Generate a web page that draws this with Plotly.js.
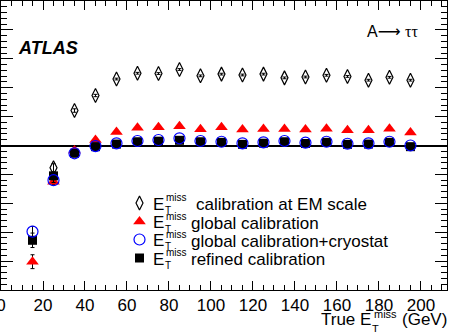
<!DOCTYPE html>
<html>
<head>
<meta charset="utf-8">
<script src="https://cdn.plot.ly/plotly-3.0.1.min.js"></script>
<style>
body {margin:0; background:#fff;}
#myPlot {width:450px; height:332px;}
</style>
</head>
<body>
<div id="myPlot"></div>
<script>
// true MET bin centres (GeV)
var trueMet = [15, 25, 35, 45, 55, 65, 75, 85, 95, 105, 115, 125, 135, 145, 155, 165, 175, 185, 195];

// linearity for each calibration
var emScale   = [-0.6, -0.077, 0.121, 0.173, 0.23, 0.25, 0.249, 0.263, 0.241, 0.247, 0.244, 0.247, 0.234, 0.237, 0.243, 0.239, 0.226, 0.236, 0.226];
var globalCal = [-0.402, -0.125, -0.017, 0.019, 0.047, 0.061, 0.063, 0.067, 0.056, 0.063, 0.055, 0.057, 0.057, 0.055, 0.058, 0.053, 0.053, 0.058, 0.045];
var cryostat  = [-0.298, -0.12, -0.027, -0.002, 0.0075, 0.0155, 0.019, 0.025, 0.0155, 0.013, 0.0075, 0.011, 0.0155, 0.0097, 0.013, 0.006, 0.0075, 0.013, 0.0];
var refined   = [-0.328, -0.105, -0.027, -0.004, 0.005, 0.013, 0.015, 0.018, 0.013, 0.011, 0.004, 0.008, 0.013, 0.007, 0.011, 0.004, 0.005, 0.011, -0.004];

// statistical errors
var emErr       = [0.02, 0.014, 0.006, 0.004, 0.003, 0.003, 0.003, 0.003, 0.003, 0.003, 0.003, 0.003, 0.003, 0.003, 0.003, 0.003, 0.003, 0.003, 0.003];
var globalErr   = [0.024, 0.01, 0.005, 0.004, 0.003, 0.003, 0.003, 0.003, 0.003, 0.003, 0.003, 0.003, 0.003, 0.003, 0.003, 0.003, 0.003, 0.003, 0.003];
var cryostatErr = [0.018, 0.008, 0.005, 0.004, 0.003, 0.003, 0.003, 0.003, 0.003, 0.003, 0.003, 0.003, 0.003, 0.003, 0.003, 0.003, 0.003, 0.003, 0.003];
var refinedErr  = [0.025, 0.008, 0.005, 0.004, 0.003, 0.003, 0.003, 0.003, 0.003, 0.003, 0.003, 0.003, 0.003, 0.003, 0.003, 0.003, 0.003, 0.003, 0.003];

var legendLabels = ["calibration at EM scale", "global calibration", "global calibration+cryostat", "refined calibration"];
var xTickVals = [0, 20, 40, 60, 80, 100, 120, 140, 160, 180, 200];

var font = "Liberation Sans, Arial, DejaVu Sans, sans-serif";

var markers = [
    {symbol: "diamond-tall-open", size: 10, color: "black", line: {color: "black", width: 1.2}},
    {symbol: "triangle-up", size: 11, color: "red", line: {width: 0}},
    {symbol: "square", size: 9, color: "black", line: {width: 0}},
    {symbol: "circle-open", size: 11, color: "blue", line: {color: "blue", width: 1.2}}
];

function errBars(arr) {
    return {type: "data", array: arr, visible: true, color: "black", thickness: 1, width: 2};
}

var data = [
    {x: trueMet, y: emScale, mode: "markers", marker: markers[0], error_y: errBars(emErr), cliponaxis: true},
    {x: trueMet, y: globalCal, mode: "markers", marker: markers[1], error_y: errBars(globalErr), cliponaxis: true},
    {x: trueMet, y: refined, mode: "markers", marker: markers[2], error_y: errBars(refinedErr), cliponaxis: true},
    {x: trueMet, y: cryostat, mode: "markers", marker: markers[3], error_y: errBars(cryostatErr), cliponaxis: true}
];

// legend keys drawn on an overlay axis in page pixels
var keyX = 139.5;
var keyRows = [203, 221.5, 239.5, 258];
var keyOrder = [0, 1, 3, 2];
for (let i = 0; i < keyRows.length; i++) {
    data.push({
        x: [keyX], y: [keyRows[i]], xaxis: "x2", yaxis: "y2",
        mode: "markers", marker: markers[keyOrder[i]], cliponaxis: false
    });
}

// plot area in page pixels: x 1..447, y 1..290
var annotations = [];
function addText(txt, px, py, size, anchor) {
    annotations.push({
        text: txt, x: (px - 1) / 446, y: (290 - py) / 289, xref: "paper", yref: "paper",
        showarrow: false, xanchor: anchor, yanchor: "middle",
        font: {family: font, size: size, color: "black"}
    });
}

// legend text with stacked E_T^miss
for (let i = 0; i < keyRows.length; i++) {
    var r = keyRows[i];
    addText("E", 150.5, r + 1, 17, "left");
    addText("miss", 163.5, r - 5.5, 10, "left");
    addText("T", 162.5, r + 7.5, 10, "left");
    addText(legendLabels[i], i == 0 ? 193.5 : 189, r + 1.5, 17, "left");
}

// x axis title
addText("True E", 373, 319.5, 17, "right");
addText("miss", 371.5, 313.5, 11, "left");
addText("T", 369.5, 328.5, 11, "left");
addText("(GeV)", 449, 319.5, 17, "right");

addText("<b><i>ATLAS</i></b>", 16, 48.5, 18, "left");
addText("A<span style='font-family:DejaVu Sans'>\u27f6</span> <span style='font-family:Liberation Serif'>\u03c4\u03c4</span>", 392, 31, 16, "center");

var layout = {
    width: 450, height: 332,
    margin: {l: 1, r: 3, t: 1, b: 42},
    paper_bgcolor: "white", plot_bgcolor: "white",
    showlegend: false,
    font: {family: font, size: 17, color: "black"},
    xaxis: {
        range: [0, 212.4], tickvals: xTickVals, ticks: "inside", ticklen: 9, tickwidth: 1, tickcolor: "black",
        minor: {dtick: 5, ticks: "inside", ticklen: 5, tickcolor: "black", showgrid: false},
        showline: true, linecolor: "black", linewidth: 1, mirror: "allticks",
        showgrid: false, zeroline: false, automargin: false, ticklabeloverflow: "allow",
        tickfont: {family: font, size: 17}
    },
    yaxis: {
        range: [-0.5, 0.5], dtick: 0.1, tick0: 0, ticks: "inside", ticklen: 12, tickwidth: 1, tickcolor: "black",
        minor: {dtick: 0.02, ticks: "inside", ticklen: 6, tickcolor: "black", showgrid: false},
        showline: true, linecolor: "black", linewidth: 1, mirror: "allticks",
        showticklabels: false, showgrid: false, automargin: false,
        zeroline: true, zerolinecolor: "black", zerolinewidth: 2
    },
    xaxis2: {overlaying: "x", range: [1, 447], visible: false, fixedrange: true},
    yaxis2: {overlaying: "y", range: [290, 1], visible: false, fixedrange: true},
    annotations: annotations
};

Plotly.newPlot("myPlot", data, layout, {staticPlot: true});
</script>
</body>
</html>
